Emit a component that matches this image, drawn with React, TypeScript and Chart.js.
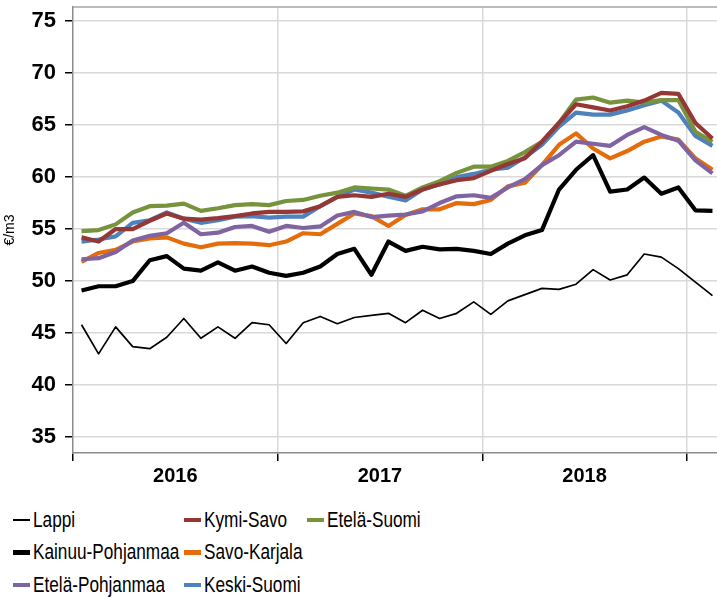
import React, { useEffect, useRef } from 'react';
import { Chart, registerables } from 'chart.js';

Chart.register(...registerables);

const months = [
  '2016-01', '2016-02', '2016-03', '2016-04', '2016-05', '2016-06', '2016-07', '2016-08', '2016-09', '2016-10', '2016-11', '2016-12',
  '2017-01', '2017-02', '2017-03', '2017-04', '2017-05', '2017-06', '2017-07', '2017-08', '2017-09', '2017-10', '2017-11', '2017-12',
  '2018-01', '2018-02', '2018-03', '2018-04', '2018-05', '2018-06', '2018-07', '2018-08', '2018-09', '2018-10', '2018-11', '2018-12',
  '2019-01', '2019-02',
];
const years = ['2016', '2017', '2018'];
const yTicks = [35, 40, 45, 50, 55, 60, 65, 70, 75];

const lappi = [45.8, 43.0, 45.6, 43.7, 43.5, 44.6, 46.4, 44.5, 45.6, 44.5, 46.0, 45.8, 44.0, 46.0, 46.6, 45.9, 46.5, 46.7, 46.9, 46.0, 47.2, 46.4, 46.9, 48.0, 46.8, 48.1, 48.7, 49.3, 49.2, 49.7, 51.1, 50.1, 50.6, 52.6, 52.3, 51.2, 49.9, 48.6];
const kainuuPohjanmaa = [49.1, 49.5, 49.5, 50.0, 52.0, 52.4, 51.2, 51.0, 51.8, 51.0, 51.4, 50.8, 50.5, 50.8, 51.4, 52.6, 53.1, 50.6, 53.8, 52.9, 53.3, 53.05, 53.1, 52.9, 52.6, 53.6, 54.4, 54.9, 58.8, 60.7, 62.1, 58.6, 58.8, 59.95, 58.4, 59.0, 56.8, 56.75];
const etelaPohjanmaa = [52.1, 52.2, 52.8, 53.9, 54.35, 54.6, 55.6, 54.5, 54.65, 55.2, 55.3, 54.75, 55.3, 55.1, 55.25, 56.3, 56.65, 56.15, 56.3, 56.4, 56.7, 57.5, 58.15, 58.25, 58.0, 59.0, 59.8, 61.15, 62.1, 63.4, 63.2, 63.0, 64.05, 64.8, 64.05, 63.5, 61.6, 60.35];
const kymiSavo = [54.2, 53.8, 55.0, 55.0, 55.8, 56.5, 56.0, 55.9, 56.05, 56.25, 56.5, 56.65, 56.65, 56.7, 57.2, 58.1, 58.25, 58.1, 58.4, 58.1, 58.8, 59.3, 59.7, 59.9, 60.6, 61.25, 61.8, 63.4, 65.2, 67.0, 66.7, 66.4, 66.8, 67.35, 68.1, 68.0, 65.2, 63.7];
const savoKarjala = [51.85, 52.7, 53.0, 53.8, 54.1, 54.2, 53.6, 53.25, 53.6, 53.65, 53.6, 53.45, 53.8, 54.6, 54.5, 55.5, 56.5, 56.25, 55.3, 56.35, 56.9, 56.9, 57.5, 57.4, 57.8, 59.1, 59.45, 61.15, 63.1, 64.2, 62.75, 61.8, 62.5, 63.4, 63.9, 63.6, 61.8, 60.7];
const keskiSuomi = [53.8, 54.0, 54.3, 55.6, 55.85, 56.6, 56.0, 55.6, 55.85, 56.2, 56.25, 56.1, 56.2, 56.2, 57.2, 58.1, 58.8, 58.5, 58.1, 57.75, 58.8, 59.3, 60.0, 60.3, 60.7, 60.9, 61.9, 63.1, 64.85, 66.2, 66.0, 66.0, 66.4, 66.9, 67.35, 66.2, 63.95, 63.0];
const etelaSuomi = [54.8, 54.9, 55.45, 56.6, 57.2, 57.25, 57.45, 56.75, 57.0, 57.3, 57.4, 57.3, 57.7, 57.8, 58.2, 58.5, 59.0, 58.9, 58.8, 58.2, 59.0, 59.6, 60.4, 61.0, 61.0, 61.55, 62.4, 63.4, 65.2, 67.45, 67.65, 67.15, 67.35, 67.15, 67.4, 67.4, 64.35, 63.4];

const FONT = 'Arial, "Liberation Sans", sans-serif';
const CANVAS_W = 721;
const AXIS_W = 73;

type Series = { name: string; data: number[]; color: string; width: number };

const S_LAPPI: Series = { name: 'Lappi', data: lappi, color: '#000000', width: 1.7 };
const S_KAINUU: Series = { name: 'Kainuu-Pohjanmaa', data: kainuuPohjanmaa, color: '#000000', width: 4.2 };
const S_EPOHJ: Series = { name: 'Etelä-Pohjanmaa', data: etelaPohjanmaa, color: '#8064A2', width: 4.2 };
const S_KYMI: Series = { name: 'Kymi-Savo', data: kymiSavo, color: '#953735', width: 4.2 };
const S_SAVO: Series = { name: 'Savo-Karjala', data: savoKarjala, color: '#E46C0A', width: 4.2 };
const S_KESKI: Series = { name: 'Keski-Suomi', data: keskiSuomi, color: '#4F81BD', width: 4.2 };
const S_ESUOMI: Series = { name: 'Etelä-Suomi', data: etelaSuomi, color: '#77933C', width: 4.2 };

// first = drawn on top
const drawOrder: Series[] = [S_KYMI, S_EPOHJ, S_SAVO, S_ESUOMI, S_KESKI, S_KAINUU, S_LAPPI];

const legendLayout: { s: Series; col: number; row: number }[] = [
  { s: S_LAPPI, col: 0, row: 0 },
  { s: S_KAINUU, col: 0, row: 1 },
  { s: S_EPOHJ, col: 0, row: 2 },
  { s: S_KYMI, col: 1, row: 0 },
  { s: S_SAVO, col: 1, row: 1 },
  { s: S_KESKI, col: 1, row: 2 },
  { s: S_ESUOMI, col: 2, row: 0 },
];
const colMarkerX = [13, 184, 307];
const rowCenterY = [520, 552.5, 585];

const topBorder = {
  id: 'topBorder',
  afterDraw(chart: any) {
    const { ctx, chartArea } = chart;
    ctx.save();
    ctx.strokeStyle = '#a6a6a6';
    ctx.lineWidth = 1.5;
    ctx.beginPath();
    ctx.moveTo(chartArea.left, chartArea.top);
    ctx.lineTo(chartArea.right, chartArea.top);
    ctx.stroke();
    ctx.restore();
  },
};

export default function App() {
  const ref = useRef<HTMLCanvasElement | null>(null);

  useEffect(() => {
    document.body.style.margin = '0';
    const canvas = ref.current;
    if (!canvas) return;
    const chart = new Chart(canvas, {
      type: 'line',
      data: {
        labels: months,
        datasets: drawOrder.map((s) => ({
          label: s.name,
          data: s.data,
          borderColor: s.color,
          backgroundColor: s.color,
          borderWidth: s.width,
          pointRadius: 0,
          pointHoverRadius: 0,
          tension: 0,
          fill: false,
          borderJoinStyle: 'round' as const,
          borderCapStyle: 'butt' as const,
        })),
      },
      options: {
        responsive: false,
        animation: false,
        events: [],
        layout: { padding: { top: 7, left: 0, right: 0, bottom: 0 } },
        plugins: { legend: { display: false }, tooltip: { enabled: false } },
        scales: {
          x: {
            type: 'category',
            offset: true,
            grid: {
              offset: true,
              color: (c: any) => (c.index > 0 && c.index % 12 === 0 ? '#d9d9d9' : 'rgba(0,0,0,0)'),
              tickColor: (c: any) => (c.index % 12 === 0 ? '#000000' : 'rgba(0,0,0,0)'),
              lineWidth: 1.5,
              tickLength: 8,
              drawTicks: true,
            },
            border: { color: '#8c8c8c', width: 1.5 },
            ticks: {
              autoSkip: false,
              maxRotation: 0,
              minRotation: 0,
              labelOffset: (CANVAS_W - AXIS_W) / months.length / 2,
              padding: 3,
              color: '#000000',
              font: { family: FONT, size: 20, weight: 'bold' },
              callback: (_v: any, i: number) => (i % 12 === 5 ? years[Math.floor(i / 12)] ?? '' : ''),
            },
            afterFit: (s: any) => {
              s.height = 47;
              s.paddingLeft = 0;
              s.paddingRight = 0;
            },
          },
          y: {
            min: 33.47,
            max: 76.35,
            afterBuildTicks: (s: any) => {
              s.ticks = yTicks.map((v) => ({ value: v }));
            },
            afterFit: (s: any) => {
              s.width = AXIS_W;
              s.paddingTop = 0;
              s.paddingBottom = 0;
            },
            grid: { color: '#d9d9d9', lineWidth: 1.5, tickColor: '#000000', tickLength: 8 },
            border: { color: '#8c8c8c', width: 1.5 },
            ticks: {
              color: '#000000',
              padding: 9,
              font: { family: FONT, size: 22, weight: 'bold' },
            },
            title: {
              display: true,
              text: '€/m3',
              color: '#000000',
              font: { family: FONT, size: 14 },
              padding: { top: 2, bottom: 0 },
            },
          },
        },
      },
      plugins: [topBorder],
    } as any);
    return () => chart.destroy();
  }, []);

  return (
    <div style={{ position: 'relative', width: 717, height: 598, background: '#fff', overflow: 'hidden' }}>
      <canvas ref={ref} width={CANVAS_W} height={500} style={{ position: 'absolute', left: 0, top: 0 }} />
      {legendLayout.map(({ s, col, row }) => {
        const mx = colMarkerX[col];
        const cy = rowCenterY[row];
        return (
          <React.Fragment key={s.name}>
            <div
              style={{
                position: 'absolute',
                left: mx,
                top: cy - s.width / 2,
                width: 17,
                height: s.width,
                background: s.color,
              }}
            />
            <span
              style={{
                position: 'absolute',
                left: mx + 20,
                top: cy - 10.5,
                fontFamily: FONT,
                fontSize: 21.5,
                lineHeight: 1,
                color: '#000',
                whiteSpace: 'nowrap',
                transform: 'scaleX(0.8)',
                transformOrigin: 'left center',
              }}
            >
              {s.name}
            </span>
          </React.Fragment>
        );
      })}
    </div>
  );
}
